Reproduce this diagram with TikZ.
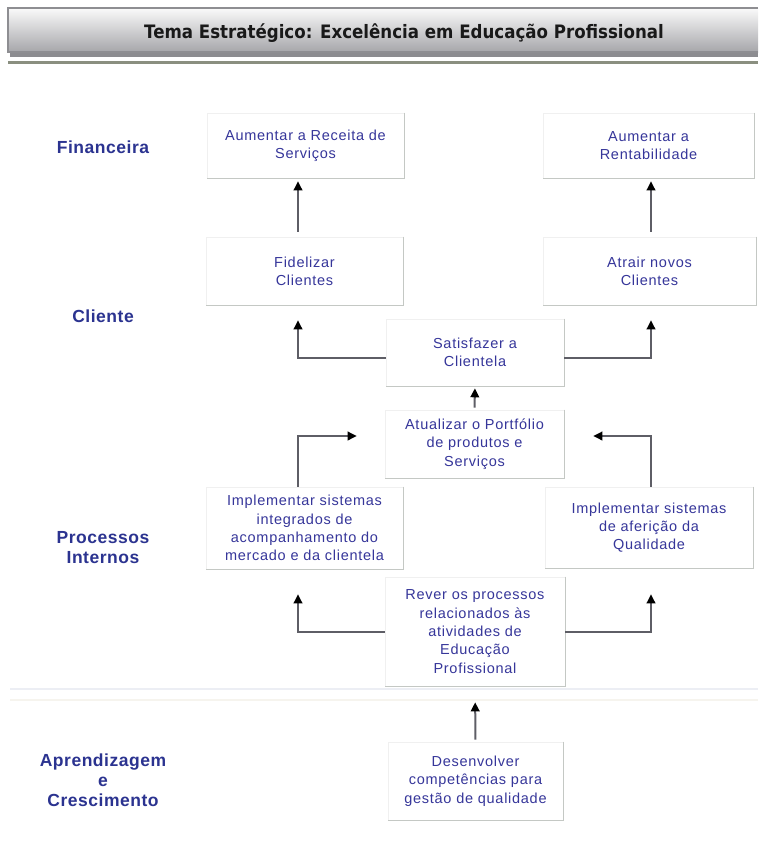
\documentclass[tikz,border=0pt]{standalone}
\usepackage{fontspec}
\setmainfont{Liberation Sans}
\newfontfamily\titlefont[FakeStretch=0.9]{DejaVu Sans}
\newfontfamily\boxfont[LetterSpace=5]{Liberation Sans}
\newfontfamily\lblfont[LetterSpace=3]{Liberation Sans}
\usetikzlibrary{arrows.meta}

\definecolor{boxtext}{HTML}{36369A}
\definecolor{lbltext}{HTML}{2B3390}
\definecolor{boxedge}{HTML}{F0F0F0}
\definecolor{boxshade}{HTML}{C4C8C4}
\definecolor{arrcol}{HTML}{5E5E66}
\definecolor{hdrtop}{HTML}{FAFAFA}
\definecolor{hdrbot}{HTML}{A6A6AA}
\definecolor{hdrshadow}{HTML}{8C8C90}
\definecolor{hdrborder}{HTML}{8E8E92}
\definecolor{rulecol}{HTML}{8A8F80}
\definecolor{sepcol}{HTML}{ECEEF4}
\definecolor{sepcol2}{HTML}{F6F4EE}

\begin{document}
\begin{tikzpicture}[x=1pt,y=-1pt,
  box/.style={draw=boxedge, line width=0.6, fill=white, align=center, inner sep=0pt,
    text=boxtext, font=\boxfont\fontsize{14.5}{18.3}\selectfont},
  perspective/.style={text=lbltext, align=center,
    font=\lblfont\bfseries\fontsize{17.5}{20}\selectfont},
  arr/.style={draw=arrcol, line width=2pt,
    -{Triangle[length=9pt,width=8.5pt,color=black]}},
  shadeline/.style={draw=boxshade, line width=1.6pt}
]
\useasboundingbox (0,0) rectangle (758,857);
\fill[white] (0,0) rectangle (758,857);

% header bar with its drop shadow
\fill[hdrshadow] (10,50) rectangle (758,57);
\shade[top color=hdrtop, bottom color=hdrbot] (8,8) rectangle (758,52);
\draw[hdrborder, line width=1.2pt] (758,8) -- (8,8) -- (8,52) -- (758,52);
\node[text=black!90, font=\titlefont\bfseries\fontsize{18.5}{22}\selectfont]
  (title) at (404,33) {Tema Estratégico: Excelência em Educação Profissional};
\draw[rulecol, line width=2.5pt] (8,62.5) -- (758,62.5);

% separator above the learning perspective
\draw[sepcol, line width=1.5pt] (10,689) -- (758,689);
\draw[sepcol2, line width=1.2pt] (10,700) -- (758,700);

% perspective labels
\node[perspective] (fin) at (103,147) {Financeira};
\node[perspective] (cli) at (103,316) {Cliente};
\node[perspective] (proc) at (103,548) {Processos\\Internos};
\node[perspective] (apr) at (103,780) {Aprendizagem\\e\\Crescimento};

% objectives
\node[box, minimum width=197, minimum height=65] (rec) at (305.5,145.5)
  {Aumentar a Receita de\\Serviços};
\node[box, minimum width=211, minimum height=65] (rent) at (648.5,145.5)
  {Aumentar a\\Rentabilidade};
\node[box, minimum width=197, minimum height=68] (fid) at (304.5,271)
  {Fidelizar\\Clientes};
\node[box, minimum width=213, minimum height=68] (atr) at (649.5,271)
  {Atrair novos\\Clientes};
\node[box, minimum width=178, minimum height=67] (sat) at (475,352.5)
  {Satisfazer a\\Clientela};
\node[box, minimum width=179, minimum height=68] (atu) at (474.5,444)
  {Atualizar o Portfólio\\de produtos e\\Serviços};
\node[box, minimum width=197, minimum height=82] (imp1) at (304.5,528)
  {Implementar sistemas\\integrados de\\acompanhamento do\\mercado e da clientela};
\node[box, minimum width=208, minimum height=81] (imp2) at (649,527.5)
  {Implementar sistemas\\de aferição da\\Qualidade};
\node[box, minimum width=180, minimum height=109] (rev) at (475,631.5)
  {Rever os processos\\relacionados às\\atividades de\\Educação\\Profissional};
\node[box, minimum width=175, minimum height=78] (des) at (475.5,781)
  {Desenvolver\\competências para\\gestão de qualidade};

\foreach \n in {rec,rent,fid,atr,sat,atu,imp1,imp2,rev,des}
  \draw[shadeline] (\n.north east) -- (\n.south east) -- (\n.south west);

% columns the vertical connectors run in
\coordinate (lx) at (298,0);
\coordinate (rx) at (651,0);

% cause-and-effect connectors
\draw[arr, shorten <=5pt, shorten >=3pt] (fid.north -| lx) -- (rec.south -| lx);
\draw[arr, shorten <=5pt, shorten >=3pt] (atr.north -| rx) -- (rent.south -| rx);
\draw[arr, shorten >=15pt] ([yshift=-5.5pt]sat.west) -| (fid.south -| lx);
\draw[arr, shorten >=15pt] ([yshift=-5.5pt]sat.east) -| (atr.south -| rx);
\draw[arr, shorten <=2pt, shorten >=2pt] (atu.north) -- (sat.south);
\draw[arr, shorten >=28pt] (imp1.north -| lx) |- ([yshift=8pt]atu.west);
\draw[arr, shorten >=29pt] (imp2.north -| rx) |- ([yshift=8pt]atu.east);
\draw[arr, shorten >=25pt] ([yshift=-0.5pt]rev.west) -| (imp1.south -| lx);
\draw[arr, shorten >=26pt] ([yshift=-0.5pt]rev.east) -| (imp2.south -| rx);
\draw[arr, shorten <=2pt, shorten >=16pt] (des.north) -- (rev.south);
\end{tikzpicture}
\end{document}
